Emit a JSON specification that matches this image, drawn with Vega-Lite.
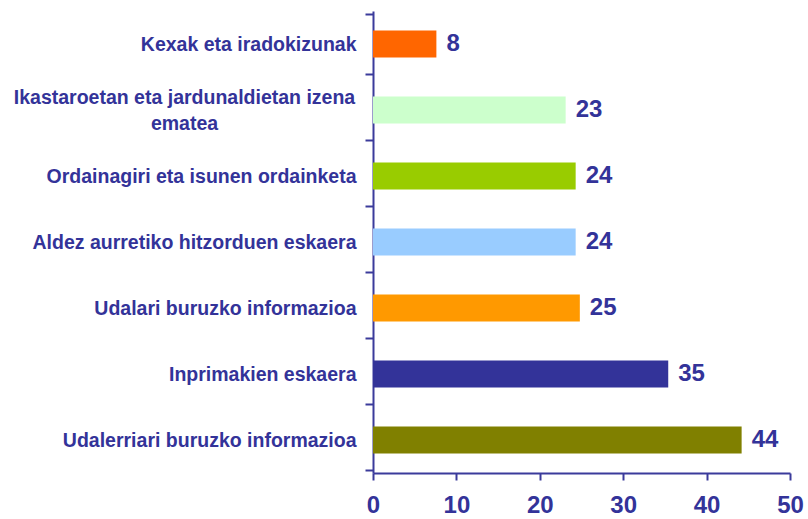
{
  "$schema": "https://vega.github.io/schema/vega-lite/v6.json",
  "autosize": {"type": "none"},
  "width": 417,
  "height": 462,
  "padding": {"left": 373, "top": 11, "right": 18, "bottom": 46},
  "background": "white",
  "config": {"view": {"stroke": null}},
  "data": {
    "values": [
      {"kategoria": "Kexak eta iradokizunak", "balioa": 7.6},
      {"kategoria": "Ikastaroetan eta jardunaldietan izena ematea", "balioa": 23.1},
      {"kategoria": "Ordainagiri eta isunen ordainketa", "balioa": 24.3},
      {"kategoria": "Aldez aurretiko hitzorduen eskaera", "balioa": 24.3},
      {"kategoria": "Udalari buruzko informazioa", "balioa": 24.8},
      {"kategoria": "Inprimakien eskaera", "balioa": 35.4},
      {"kategoria": "Udalerriari buruzko informazioa", "balioa": 44.2}
    ]
  },
  "encoding": {
    "y": {
      "field": "kategoria",
      "type": "nominal",
      "sort": null,
      "title": null,
      "axis": {
        "tickBand": "extent",
        "domainColor": "#3b3b9b",
        "domainWidth": 2,
        "tickColor": "#3b3b9b",
        "tickWidth": 2,
        "tickSize": 8,
        "labelColor": "#333399",
        "labelFont": "Liberation Sans",
        "labelFontWeight": "bold",
        "labelFontSize": 19.5,
        "labelLimit": 400,
        "labelLineHeight": 26,
        "labelExpr": "datum.value == 'Ikastaroetan eta jardunaldietan izena ematea' ? ['Ikastaroetan eta jardunaldietan izena', 'ematea'] : datum.label",
        "labelAlign": {"condition": {"test": "datum.value == 'Ikastaroetan eta jardunaldietan izena ematea'", "value": "center"}, "value": "right"},
        "labelPadding": {"condition": {"test": "datum.value == 'Ikastaroetan eta jardunaldietan izena ematea'", "value": 181}, "value": 9},
        "labelOffset": {"condition": {"test": "datum.value == 'Ikastaroetan eta jardunaldietan izena ematea'", "value": -13}, "value": 0}
      }
    }
  },
  "layer": [
    {
      "mark": {"type": "bar", "size": 27},
      "encoding": {
        "x": {
          "field": "balioa",
          "type": "quantitative",
          "scale": {"domain": [0, 50], "nice": false},
          "title": null,
          "axis": {
            "values": [0, 10, 20, 30, 40, 50],
            "grid": false,
            "domainColor": "#3b3b9b",
            "domainWidth": 2,
            "tickColor": "#3b3b9b",
            "tickWidth": 2,
            "tickSize": 7,
            "labelColor": "#333399",
            "labelFont": "Liberation Sans",
            "labelFontWeight": "bold",
            "labelFontSize": 24,
            "labelPadding": 13,
            "labelFlush": false
          }
        },
        "color": {
          "field": "kategoria",
          "type": "nominal",
          "legend": null,
          "scale": {
            "domain": ["Kexak eta iradokizunak", "Ikastaroetan eta jardunaldietan izena ematea", "Ordainagiri eta isunen ordainketa", "Aldez aurretiko hitzorduen eskaera", "Udalari buruzko informazioa", "Inprimakien eskaera", "Udalerriari buruzko informazioa"],
            "range": ["#ff6600", "#ccffcc", "#99cc00", "#99ccff", "#ff9900", "#333399", "#808000"]
          }
        }
      }
    },
    {
      "mark": {"type": "text", "align": "left", "baseline": "middle", "dx": 10, "font": "Liberation Sans", "fontWeight": "bold", "fontSize": 24, "color": "#333399"},
      "encoding": {
        "x": {"field": "balioa", "type": "quantitative"},
        "text": {"field": "balioa", "type": "quantitative", "format": ".0f"}
      }
    }
  ]
}
